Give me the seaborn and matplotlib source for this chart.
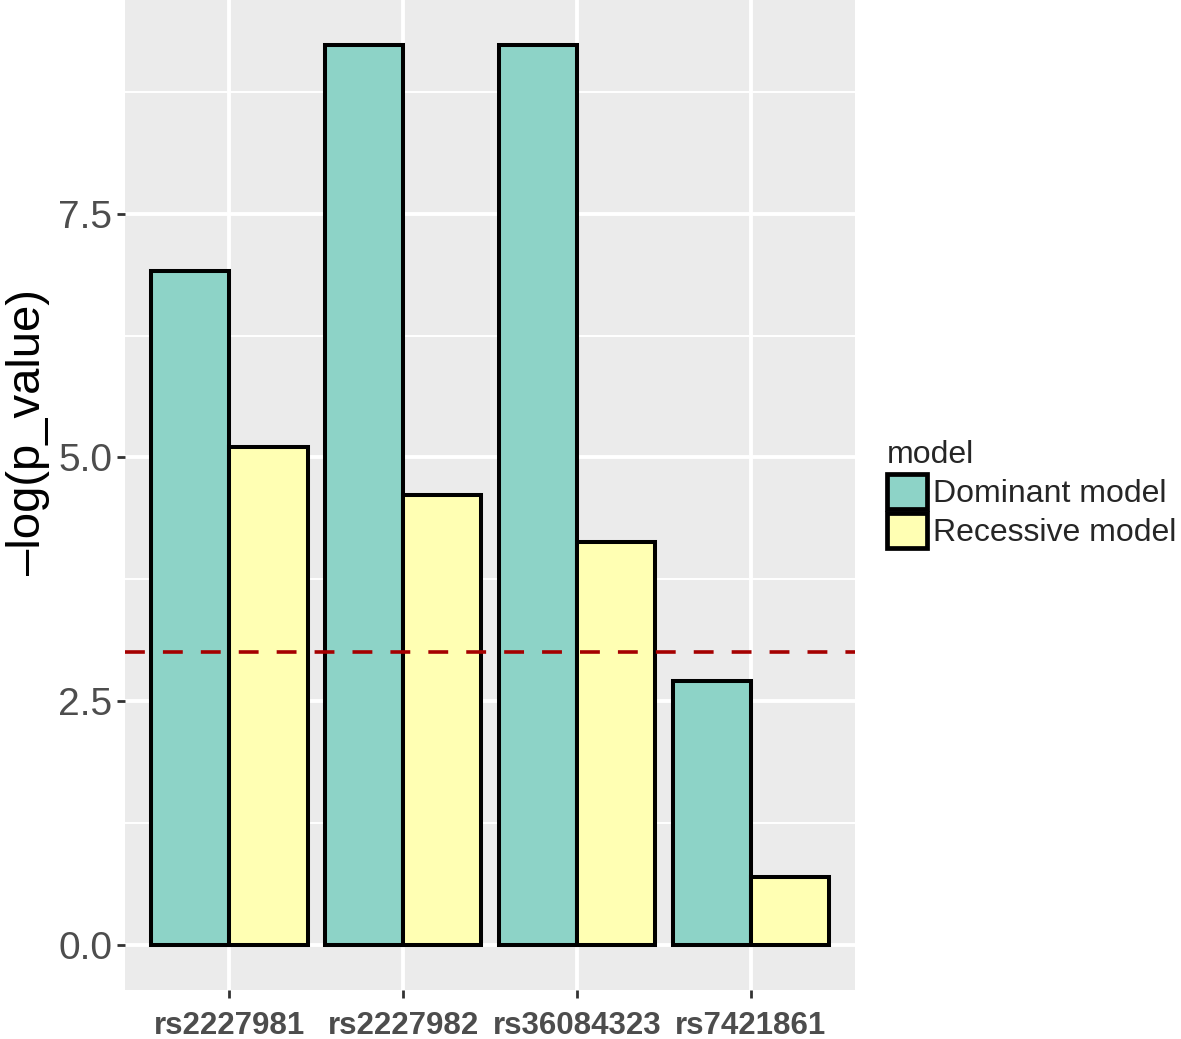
import matplotlib
matplotlib.use("Agg")
import matplotlib.pyplot as plt
import seaborn as sns
import pandas as pd
from matplotlib.patches import Patch

snps = ["rs2227981", "rs2227982", "rs36084323", "rs7421861"]
models = ["Dominant model", "Recessive model"]
dominant = [6.91, 9.23, 9.23, 2.71]
recessive = [5.11, 4.61, 4.13, 0.70]
threshold = 3.0
palette = {"Dominant model": "#8DD3C7", "Recessive model": "#FFFFB3"}

df = pd.DataFrame({
    "snp": snps * 2,
    "model": [models[0]] * 4 + [models[1]] * 4,
    "value": dominant + recessive,
})

sns.set_theme(style="darkgrid")
plt.rcParams["font.family"] = ["Liberation Sans", "DejaVu Sans"]

fig = plt.figure(figsize=(11.81, 10.39), dpi=100)
ax = fig.add_axes([125 / 1181, 49 / 1039, 730 / 1181, 990 / 1039])
ax.set_facecolor("#EBEBEB")

sns.barplot(data=df, x="snp", y="value", hue="model", order=snps, hue_order=models,
            palette=palette, edgecolor="black", linewidth=2.9, width=0.9,
            saturation=1, errorbar=None, ax=ax, legend=False, zorder=3)

ax.axhline(threshold, color="#A50000", linestyle=(0, (5.5, 5)), linewidth=2.6, zorder=4)

ax.set_xlim(-0.6, 3.6)
ax.set_ylim(-0.462, 9.692)
ax.set_yticks([0, 2.5, 5.0, 7.5])
ax.set_yticklabels(["0.0", "2.5", "5.0", "7.5"])
ax.set_yticks([1.25, 3.75, 6.25, 8.75], minor=True)

ax.grid(which="major", color="white", linewidth=2.8, zorder=0)
ax.grid(which="minor", axis="y", color="white", linewidth=1.4, zorder=0)
ax.set_axisbelow(True)
for s in ax.spines.values():
    s.set_visible(False)

ax.tick_params(axis="y", which="major", length=6, width=2, color="#333333",
               labelsize=28, labelcolor="#4D4D4D", pad=3, left=True)
ax.tick_params(axis="y", which="minor", length=0)
ax.tick_params(axis="x", length=6, width=2, color="#333333", labelsize=22.5,
               labelcolor="#4D4D4D", pad=9, bottom=True)
for lbl in ax.get_xticklabels():
    lbl.set_fontweight("bold")

ax.set_xlabel("")
ax.set_ylabel("–log(p_value)", fontsize=34, color="black")
ax.yaxis.set_label_coords(-0.103, 0.5636)

handles = [Patch(facecolor=palette[m], edgecolor="black", linewidth=3.4) for m in models]
leg = fig.legend(handles, models, title="model", loc="upper left",
                 bbox_to_anchor=(887 / 1181, 1 - 440 / 1039), frameon=False,
                 fontsize=23, title_fontsize=23, handlelength=1.25, handleheight=1.3,
                 handletextpad=0.2, labelspacing=0.12, borderaxespad=0, borderpad=0)
leg._legend_box.align = "left"

fig.savefig("out.png", dpi=100)
